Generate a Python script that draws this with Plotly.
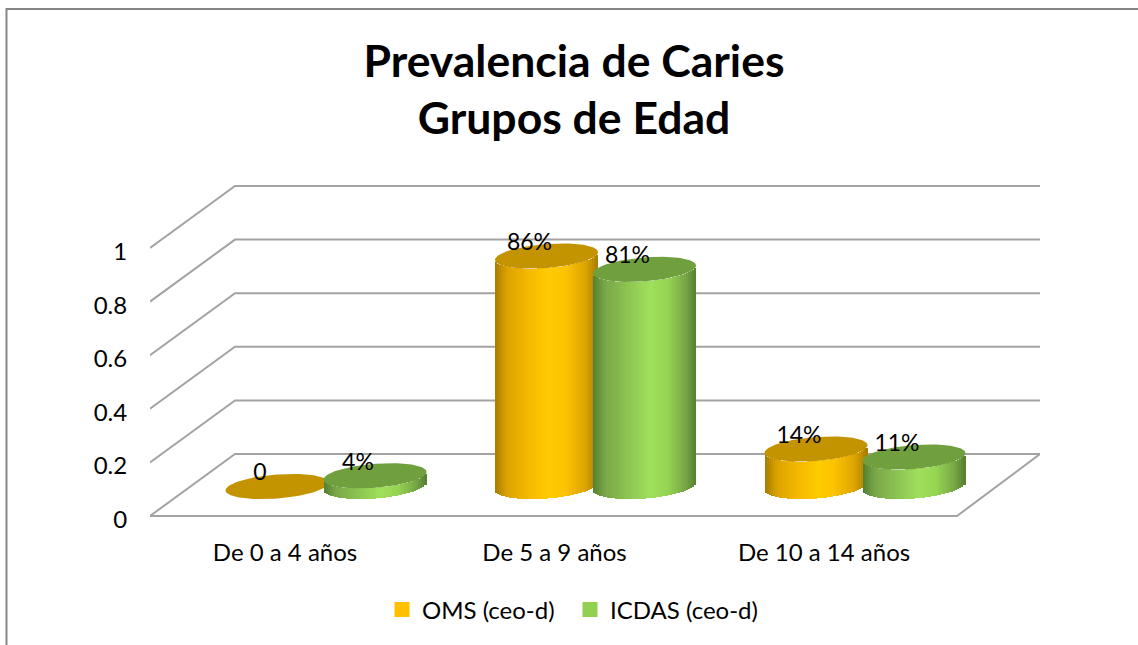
import numpy as np
import plotly.graph_objects as go

categories = ["De 0 a 4 años", "De 5 a 9 años", "De 10 a 14 años"]
oms_values = [0.0, 0.86, 0.14]
icdas_values = [0.04, 0.81, 0.11]
oms_labels = ["0", "86%", "14%"]
icdas_labels = ["4%", "81%", "11%"]
y_ticks = [0, 0.2, 0.4, 0.6, 0.8, 1]
series_names = ["OMS (ceo-d)", "ICDAS (ceo-d)"]

W, H = 1138, 645
L, R, B = 150, 1040, 516
PB = 521                       # bottom of the plot area, just under the zero line
XU, YU = 269.5, 268.0          # pixels per category / per unit of value
X0 = (L - 326) / XU
X1 = (R - 326) / XU
Y0 = (B - PB) / YU
Y1 = B / YU
DX, DY = 85 / XU, 62 / YU      # depth of the 3D box
SIDE = 49 / XU                 # series offset from category centre
RX, RY, SHEAR = 51.5 / XU, 12.0 / YU, 0.075 * XU / YU
BASE_Y = 29.5 / YU             # base plane of the cylinders
TICK_SHIFT = -41 / XU
YTICK_SHIFT = -3.5 / YU
N = 51
LABEL_SIZE = 23

GRID = "#a3a3a3"
STYLE = {
    "oms": dict(top="#c49300", stops=[(0, "#a87c00"), (0.12, "#dda400"), (0.35, "#f7bb00"), (0.52, "#ffcb00"),
                                      (0.68, "#fdc300"), (0.88, "#dca400"), (1, "#a87c00")], legend="#ffc000"),
    "icdas": dict(top="#70a03e", stops=[(0, "#567f32"), (0.12, "#7aa848"), (0.35, "#8ec653"), (0.55, "#9fe05c"),
                                        (0.72, "#96d552"), (0.9, "#77a646"), (1, "#567f32")], legend="#92d050"),
}


def hex_rgb(h):
    return np.array([int(h[i:i + 2], 16) for i in (1, 3, 5)], float)


def shade(stops, t):
    pos = [s[0] for s in stops]
    cols = np.array([hex_rgb(s[1]) for s in stops])
    return "rgb(%d,%d,%d)" % tuple(np.interp(t, pos, cols[:, i]) for i in range(3))


def body_trace(values, offset, style, axes):
    xs, bases, heights, widths, colors = [], [], [], [], []
    for i, v in enumerate(values):
        cx = i + offset
        for k in range(N):
            t = (k + 0.5) / N
            u = 2 * t - 1
            dx = u * RX
            low = BASE_Y + SHEAR * dx - RY * np.sqrt(1 - u * u)
            xs.append(cx + dx)
            bases.append(low)
            heights.append(v)
            widths.append(2 * RX / N)
            colors.append(shade(style["stops"], t))
    return go.Bar(x=xs, y=heights, base=bases, width=widths, marker=dict(color=colors, line_width=0),
                  showlegend=False, hoverinfo="skip", xaxis=axes[0], yaxis=axes[1])


def top_trace(values, offset, style, axes):
    xs, ys = [], []
    th = np.linspace(0, 2 * np.pi, 90)
    for i, v in enumerate(values):
        dx = RX * np.cos(th)
        xs += list(i + offset + dx) + [None]
        ys += list(BASE_Y + v + SHEAR * dx + RY * np.sin(th)) + [None]
    return go.Scatter(x=xs, y=ys, mode="lines", fill="toself", fillcolor=style["top"], line=dict(width=0),
                      showlegend=False, hoverinfo="skip", xaxis=axes[0], yaxis=axes[1])


def label_trace(values, labels, offset, axes):
    return go.Scatter(x=[i + offset - 17 / XU for i in range(len(values))],
                      y=[BASE_Y + v + 12 / YU for v in values],
                      mode="text", text=labels, textposition="middle center",
                      textfont=dict(family="Lato", size=LABEL_SIZE, color="#000"),
                      showlegend=False, hoverinfo="skip", xaxis=axes[0], yaxis=axes[1])


fig = go.Figure()

# box: floor outline and wall gridlines
gx, gy = [], []
for v in y_ticks[1:]:
    gx += [X0, X0 + DX, X1, None]
    gy += [v, v + DY, v + DY, None]
gx += [X0, X0 + DX, X1, X1 - 83 / XU, X0]
gy += [0, DY, DY, 0, 0]
fig.add_trace(go.Scatter(x=gx, y=gy, mode="lines", line=dict(color=GRID, width=2),
                         showlegend=False, hoverinfo="skip", cliponaxis=False))

fig.add_trace(body_trace(oms_values, -SIDE, STYLE["oms"], ("x2", "y2")))
fig.add_trace(top_trace(oms_values, -SIDE, STYLE["oms"], ("x2", "y2")))
fig.add_trace(body_trace(icdas_values, SIDE, STYLE["icdas"], ("x3", "y3")))
fig.add_trace(top_trace(icdas_values, SIDE, STYLE["icdas"], ("x3", "y3")))
fig.add_trace(label_trace(oms_values, oms_labels, -SIDE, ("x4", "y4")))
fig.add_trace(label_trace(icdas_values, icdas_labels, SIDE, ("x4", "y4")))

for name, key in zip(series_names, ["oms", "icdas"]):
    fig.add_trace(go.Scatter(x=[None], y=[None], mode="markers", name=name,
                             marker=dict(symbol="square", size=15, color=STYLE[key]["legend"])))

hidden = dict(range=[X0, X1], visible=False, fixedrange=True)
hiddeny = dict(range=[Y0, Y1], visible=False, fixedrange=True)
fig.update_layout(
    width=W, height=H, margin=dict(l=L, r=W - R, t=0, b=H - PB, pad=0, autoexpand=False),
    paper_bgcolor="white", plot_bgcolor="white", barmode="overlay", bargap=0,
    font=dict(family="Lato", color="#000"),
    title=dict(text="<b>Prevalencia de Caries<br>Grupos de Edad</b>", x=574 / W, xanchor="center",
               y=1 - 76.5 / H, yanchor="middle", font=dict(family="Lato", size=44.5, color="#000")),
    xaxis=dict(range=[X0, X1], tickvals=[i + TICK_SHIFT for i in range(3)], ticktext=categories,
               showgrid=False, zeroline=False, showline=False, ticks="outside", ticklen=10,
               tickcolor="rgba(0,0,0,0)", tickfont=dict(family="Lato", size=24), fixedrange=True),
    yaxis=dict(range=[Y0, Y1], tickvals=[v + YTICK_SHIFT for v in y_ticks], ticktext=[str(v) for v in y_ticks],
               showgrid=False, zeroline=False, showline=False, ticks="outside", ticklen=17,
               tickcolor="rgba(0,0,0,0)", tickfont=dict(family="Lato", size=24), fixedrange=True),
    xaxis2=dict(hidden, overlaying="x"), yaxis2=dict(hiddeny, overlaying="y"),
    xaxis3=dict(hidden, overlaying="x"), yaxis3=dict(hiddeny, overlaying="y"),
    xaxis4=dict(hidden, overlaying="x"), yaxis4=dict(hiddeny, overlaying="y"),
    legend=dict(orientation="h", x=(382 - L) / (R - L), xanchor="left", y=(PB - 610) / PB, yanchor="middle",
                font=dict(family="Lato", size=24), bgcolor="rgba(0,0,0,0)", itemwidth=30,
                entrywidth=143, entrywidthmode="pixels"),
    shapes=[dict(type="path", xref="paper", yref="paper", layer="below",
                 path="M %.5f %.5f L %.5f %.5f L %.5f %.5f" % ((6.5 - L) / (R - L), (PB - H) / PB,
                                                                (6.5 - L) / (R - L), (PB - 9) / PB,
                                                                (W - L) / (R - L), (PB - 9) / PB),
                 line=dict(color="#868686", width=2))],
)
fig.write_html("out.html", config=dict(displayModeBar=False), post_script="document.body.style.margin='0';")
